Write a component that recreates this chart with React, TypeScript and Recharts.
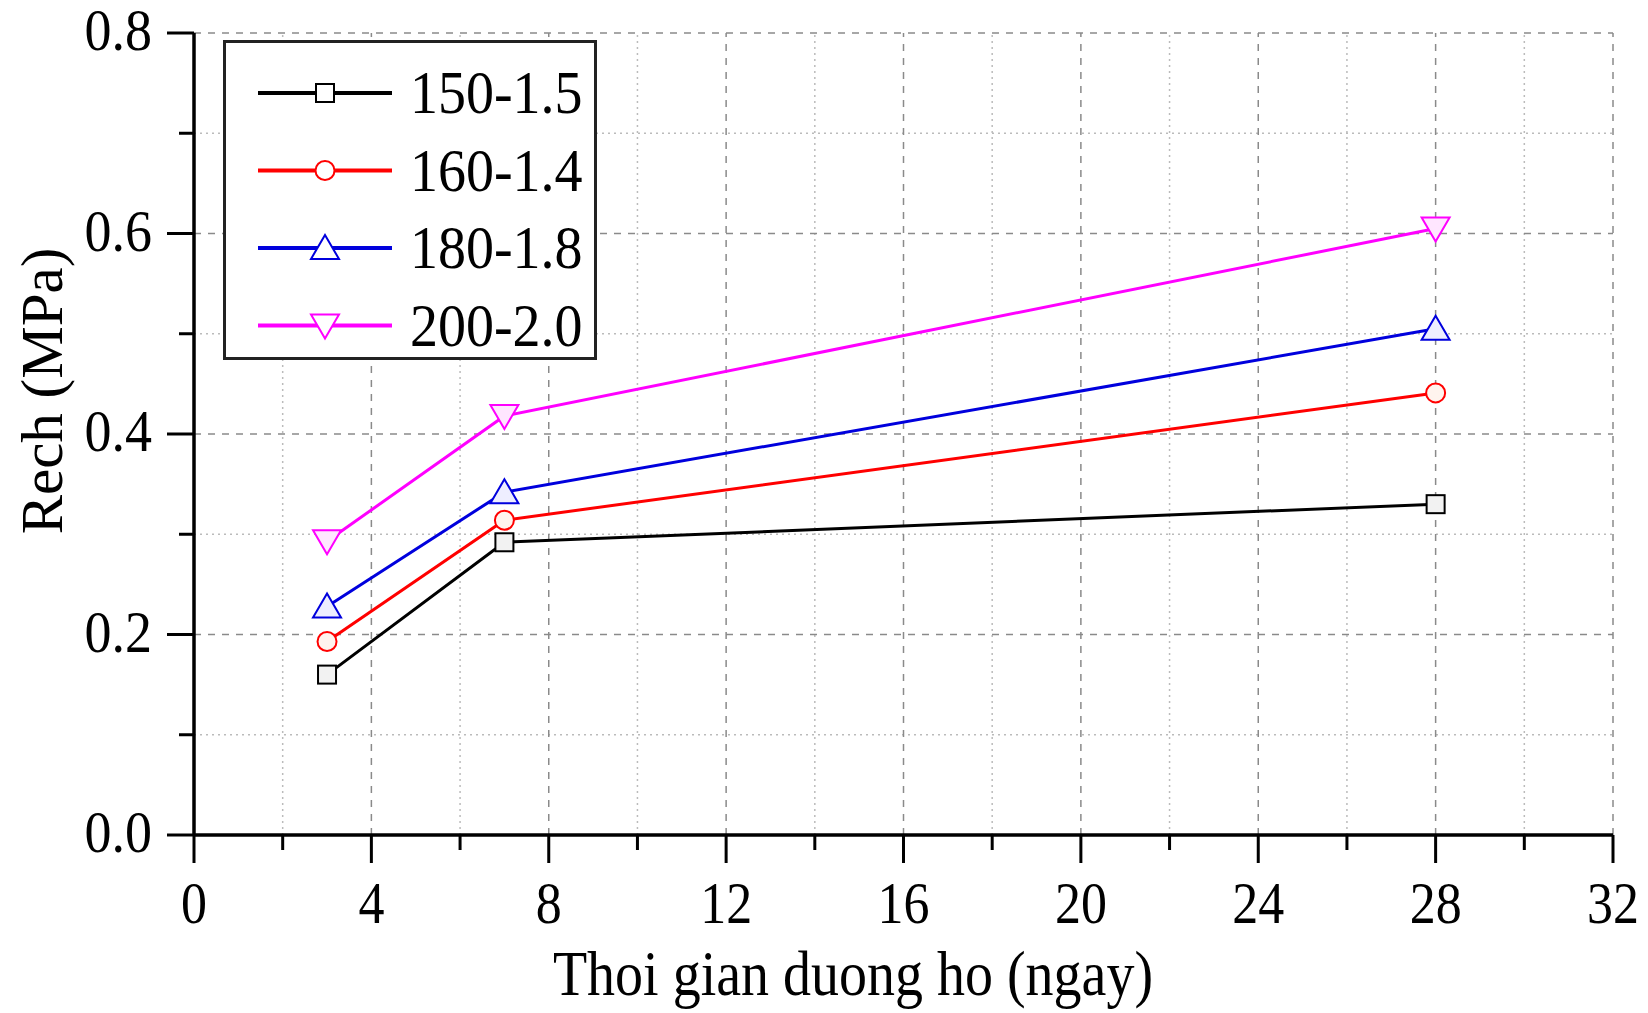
import {
  LineChart,
  Line,
  XAxis,
  YAxis,
  ReferenceLine,
} from 'recharts';

// Curing time (days) and strength per mix
const DAYS = [3, 7, 28];
const R_150_15 = [0.16, 0.292, 0.33];
const R_160_14 = [0.193, 0.314, 0.441];
const R_180_18 = [0.228, 0.342, 0.505];
const R_200_20 = [0.293, 0.418, 0.605];
const SERIES_NAMES = ['150-1.5', '160-1.4', '180-1.8', '200-2.0'];

const X_TICKS = [0, 2, 4, 6, 8, 10, 12, 14, 16, 18, 20, 22, 24, 26, 28, 30, 32];
const Y_TICKS = [0, 0.1, 0.2, 0.3, 0.4, 0.5, 0.6, 0.7, 0.8];
const X_MAJOR = [4, 8, 12, 16, 20, 24, 28, 32];
const X_MINOR = [2, 6, 10, 14, 18, 22, 26, 30];
const Y_MAJOR = [0.2, 0.4, 0.6, 0.8];
const Y_MINOR = [0.1, 0.3, 0.5, 0.7];

const X_TITLE = 'Thoi gian duong ho (ngay)';
const Y_TITLE = 'Rech (MPa)';

const FONT = '"Liberation Serif", "Times New Roman", serif';

const SERIES = [
  { key: 's1', name: SERIES_NAMES[0], values: R_150_15, color: '#000000', fill: '#f2f2f2', shape: 'square' },
  { key: 's2', name: SERIES_NAMES[1], values: R_160_14, color: '#ff0000', fill: '#fff4ee', shape: 'circle' },
  { key: 's3', name: SERIES_NAMES[2], values: R_180_18, color: '#0000dd', fill: '#eeeeff', shape: 'up' },
  { key: 's4', name: SERIES_NAMES[3], values: R_200_20, color: '#ff00ff', fill: '#ffe6ff', shape: 'down' },
];

const chartData = DAYS.map((d, i) => {
  const row: any = { day: d };
  SERIES.forEach((s) => {
    row[s.key] = s.values[i];
  });
  return row;
});

function Marker({ cx, cy, shape, color, fill }: any) {
  if (cx == null || cy == null) return null;
  if (shape === 'square') {
    return <rect x={cx - 9} y={cy - 9} width={18} height={18} fill={fill} stroke={color} strokeWidth={2} />;
  }
  if (shape === 'circle') {
    return <circle cx={cx} cy={cy} r={9.5} fill={fill} stroke={color} strokeWidth={2} />;
  }
  if (shape === 'up') {
    return (
      <polygon
        points={`${cx},${cy - 13} ${cx + 14},${cy + 11} ${cx - 14},${cy + 11}`}
        fill={fill}
        stroke={color}
        strokeWidth={2}
      />
    );
  }
  return (
    <polygon
      points={`${cx},${cy + 13} ${cx + 14},${cy - 11} ${cx - 14},${cy - 11}`}
      fill={fill}
      stroke={color}
      strokeWidth={2}
    />
  );
}

function XTick({ x, y, payload }: any) {
  const v = payload.value;
  const major = v % 4 === 0;
  return (
    <g>
      <line x1={x} x2={x} y1={y} y2={y + (major ? 28 : 15)} stroke="#000" strokeWidth={3} />
      {major && (
        <text
          transform={`translate(${x}, ${y + 88}) scale(1, 1.12)`}
          textAnchor="middle"
          fontFamily={FONT}
          fontSize={52}
          fill="#000"
        >
          {v}
        </text>
      )}
    </g>
  );
}

function YTick({ x, y, payload }: any) {
  const v = payload.value;
  const major = Math.round(v * 10) % 2 === 0;
  return (
    <g>
      <line x1={x} x2={x - (major ? 27 : 15)} y1={y} y2={y} stroke="#000" strokeWidth={3} />
      {major && (
        <text
          transform={`translate(${x - 42}, ${y + 17}) scale(1, 1.08)`}
          textAnchor="end"
          fontFamily={FONT}
          fontSize={54}
          fill="#000"
        >
          {v.toFixed(1)}
        </text>
      )}
    </g>
  );
}

function LegendBox() {
  return (
    <svg width={374} height={320} style={{ display: 'block' }}>
      <rect x={1.5} y={1.5} width={371} height={317} fill="#fff" stroke="#222" strokeWidth={3} />
      {SERIES.map((s, i) => {
        const cy = 53 + i * 77.5;
        return (
          <g key={s.key}>
            <line x1={35} x2={169} y1={cy} y2={cy} stroke={s.color} strokeWidth={4} />
            <Marker cx={102} cy={cy} shape={s.shape} color={s.color} fill="#fff" />
            <text
              transform={`translate(187, ${cy + 20}) scale(1, 1.08)`}
              fontFamily={FONT}
              fontSize={56}
              fill="#000"
            >
              {s.name}
            </text>
          </g>
        );
      })}
    </svg>
  );
}

export default function App() {
  const W = 1632;
  const H = 1005;
  return (
    <div style={{ position: 'relative', width: W, height: H, background: '#fff' }}>
      <LineChart
        width={W}
        height={H}
        data={chartData}
        margin={{ top: 25, right: 27, left: 0, bottom: 0 }}
        style={{ overflow: 'visible' }}
      >
        <XAxis
          dataKey="day"
          type="number"
          domain={[0, 32]}
          ticks={X_TICKS}
          interval={0}
          height={178}
          tickSize={0}
          tickMargin={0}
          tickLine={false}
          axisLine={{ stroke: '#000', strokeWidth: 3.5 }}
          tick={<XTick />}
        />
        <YAxis
          type="number"
          domain={[0, 0.8]}
          ticks={Y_TICKS}
          interval={0}
          width={186}
          tickSize={0}
          tickMargin={0}
          tickLine={false}
          axisLine={{ stroke: '#000', strokeWidth: 3.5 }}
          tick={<YTick />}
        />
        {X_MINOR.map((v) => (
          <ReferenceLine key={`xm${v}`} x={v} stroke="#bbbbbb" strokeWidth={1.5} strokeDasharray="2 4" />
        ))}
        {Y_MINOR.map((v) => (
          <ReferenceLine key={`ym${v}`} y={v} stroke="#bbbbbb" strokeWidth={1.5} strokeDasharray="2 4" />
        ))}
        {X_MAJOR.map((v) => (
          <ReferenceLine key={`xM${v}`} x={v} stroke="#8a8a8a" strokeWidth={1.5} strokeDasharray="7 7" />
        ))}
        {Y_MAJOR.map((v) => (
          <ReferenceLine key={`yM${v}`} y={v} stroke="#8a8a8a" strokeWidth={1.5} strokeDasharray="7 7" />
        ))}
        {SERIES.map((s) => (
          <Line
            key={s.key}
            dataKey={s.key}
            name={s.name}
            type="linear"
            stroke={s.color}
            strokeWidth={3}
            isAnimationActive={false}
            dot={(p: any) => (
              <Marker
                key={`${s.key}-${p.index}`}
                cx={p.cx}
                cy={p.cy}
                shape={s.shape}
                color={s.color}
                fill={s.fill}
              />
            )}
            activeDot={false}
          />
        ))}
      </LineChart>
      <div style={{ position: 'absolute', left: 215, top: 32 }}>
        <LegendBox />
      </div>
      <svg
        width={W}
        height={H}
        style={{ position: 'absolute', left: 0, top: 0, pointerEvents: 'none' }}
      >
        <text
          transform={`translate(845, 987) scale(1, 1.12)`}
          textAnchor="middle"
          fontFamily={FONT}
          fontSize={56}
          fill="#000"
        >
          {X_TITLE}
        </text>
        <text
          transform={`translate(34, 383) rotate(-90)`}
          textAnchor="middle"
          dominantBaseline="central"
          fontFamily={FONT}
          fontSize={59}
          fill="#000"
        >
          {Y_TITLE}
        </text>
      </svg>
    </div>
  );
}
